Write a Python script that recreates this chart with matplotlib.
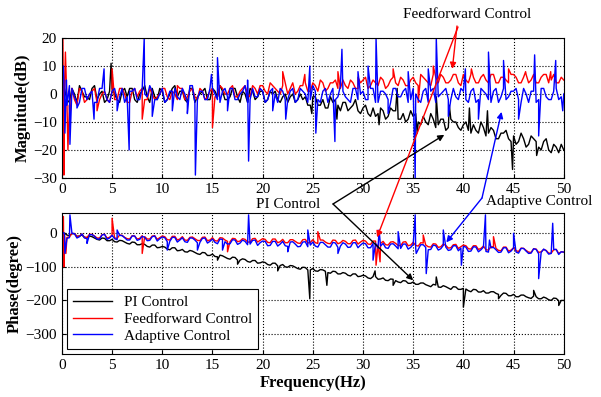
import matplotlib
matplotlib.use('Agg')
import matplotlib.pyplot as plt
import numpy as np


###############################################################################
# Data
###############################################################################

# Sampling grids: whole/half Hz points and the quarter points between them
freq = np.arange(0, 50.5, 0.5)
freq_mid = np.arange(0.25, 50, 0.5)

# Magnitude (dB)
mag_pi = [3, -2, 2, -3, 1, -1, 2, -2, 1, -2,
          2, -2, 1, -1, 2, -3, 1, -1, 2, -2,
          1, -2, 2, -1, 1, -3, 2, -1, 1, -2,
          2, -1, 1, -2, 2, -1, 1, -3, 1, -1,
          1, -2, 0, -2, -1, -3, 0, -2, -2, -4,
          -1, -4, -2, -5, -3, -4, -3, -6, -4, -6,
          -5, -7, -5, -7, -6, -8, -6, -9, -7, -9,
          -8, -10, -8, -11, -9, -11, -9, -12, -10, -12,
          -11, -13, -11, -14, -12, -14, -13, -16, -14, -16,
          -15, -17, -16, -18, -16, -19, -17, -20, -18, -21,
          -20]
mag_pi_mid = [2, -3, 0, 3, -1, -2, 3, 0, -3, 1,
              0, -3, 2, 2, -2, 0, 3, -3, -1, 2,
              -3, 0, 3, 1, -2, 2, -3, 0, 2, -2,
              1, 3, -2, -1, 2, -3, 0, 2, -2, 1,
              -3, 1, 1, -3, 0, -1, -3, 0, -1, -4,
              -1, -4, -5, -1, -2, -6, -3, -5, -2, -7,
              -4, -8, -8, -5, -9, -5, -6, -9, -10, -6,
              -7, -11, -10, -7, -12, -9, -13, -9, -10, -13,
              -10, -14, -13, -10, -15, -12, -16, -14, -13, -17,
              -18, -14, -19, -15, -17, -20, -16, -21, -19, -18]
mag_ff = [-5, -3, 2, -4, 1, -2, 1, -3, 0, -2,
          1, -2, 2, -3, 1, -1, 2, -2, 0, -1,
          2, -1, 1, -2, 2, -1, 2, -2, 1, -1,
          2, -1, 2, 0, 3, -1, 2, 0, 3, 0,
          3, 0, 3, 1, 3, 0, 4, 1, 3, 1,
          4, 1, 4, 2, 4, 2, 5, 2, 4, 2,
          5, 2, 5, 3, 5, 3, 6, 3, 5, 3,
          6, 3, 6, 4, 7, 4, 6, 4, 7, 4,
          7, 4, 6, 4, 7, 4, 7, 4, 6, 4,
          7, 4, 6, 4, 7, 4, 7, 4, 7, 4,
          5]
mag_ff_mid = [1, -4, -2, 2, -3, 0, 2, -2, 1, -3,
              -2, 2, 0, -3, 2, 1, -2, 2, -2, 0,
              2, -2, 0, 2, -2, 1, -1, 2, -2, 1,
              -1, 3, 0, 2, -1, 1, 3, -1, 2, 3,
              1, 4, 2, 0, 4, 2, 0, 3, 4, 1,
              3, 5, 1, 4, 5, 2, 3, 5, 2, 4,
              6, 3, 4, 6, 2, 5, 4, 6, 3, 5,
              4, 7, 5, 3, 6, 7, 4, 5, 7, 3,
              5, 7, 4, 6, 5, 7, 4, 6, 5, 7,
              6, 4, 7, 5, 4, 6, 7, 5, 4, 6]
mag_ad = [8, -4, 2, -3, 2, -2, 1, -3, 2, -2,
          1, -2, 2, -1, 1, -2, 2, -1, 1, -2,
          2, -2, 1, -1, 2, -3, 3, -2, 1, -2,
          2, -2, 1, -1, 2, -2, 1, -3, 2, -1,
          1, -2, 2, -3, 1, -2, 2, -2, 1, -3,
          3, -2, 1, -3, 2, -1, 1, -2, 2, -2,
          1, -2, 2, -3, 1, -2, 2, -1, 1, -3,
          2, -2, 1, -3, 2, -1, 1, -2, 2, -2,
          1, -3, 2, -2, 1, -2, 1, -3, 2, -1,
          1, -2, 2, -3, 1, -2, 2, -2, 1, -2,
          0]
mag_ad_mid = [-2, 3, -1, -3, 2, 0, -3, 2, 1, -3,
              2, -1, -3, 1, 2, -2, 0, 3, -2, 0,
              -3, 1, 2, -2, 0, 3, -3, 1, -2, 2,
              0, -3, 2, 2, -2, 0, 3, -2, -1, 2,
              -3, 1, 0, 2, -2, 1, -3, 2, 0, -2,
              1, -3, 2, 0, -2, 3, -1, -3, 2, 0,
              -2, 2, -3, 1, 0, -3, 2, -1, 2, -2,
              0, -3, 2, 1, -3, 0, 2, -2, -1, 2,
              -2, 1, -3, 2, 0, -3, 2, -1, -2, 1,
              2, -3, 0, 1, -3, 2, -1, -2, 2, -1]

# Magnitude spikes (Hz, dB)
mag_pi_spikes = [(4.9, 11), (24.9, -7), (27.4, -9), (31.6, -11), (33.4, 2),
                 (35.4, -14), (37.3, -1), (38.6, -4), (40.6, -5), (42.4, -6),
                 (44.9, -27), (47.3, -22)]
mag_ff_spikes = [(0.1, 20), (0.2, -29), (0.35, 15), (0.6, -20), (0.8, -8),
                 (3.5, -6), (5.0, 9), (8.0, -9), (11.5, 3), (15.0, -12),
                 (22.0, 8), (24.2, 7), (27.5, 8), (29.5, 6), (33.0, 9),
                 (35.5, -3), (37.0, 10), (40.8, 9), (44.5, 9), (46.2, 8),
                 (48.7, 8)]
mag_ad_spikes = [(0.15, 10), (0.3, -14), (0.45, 5), (0.8, -18), (1.5, -5),
                 (3.2, -9), (4.2, 9), (5.5, -6), (6.7, -20), (8.2, 20),
                 (9.0, -8), (11.0, -6), (12.5, -7), (13.3, -29), (14.9, 7),
                 (15.5, 13), (16.5, -6), (18.5, 5), (18.6, -24), (21.0, -6),
                 (22.3, -9), (24.7, 10), (25.3, -14), (27.2, -17), (27.9, 16),
                 (29.5, 8), (30.5, 10), (31.3, 20), (32.5, -7), (34.5, 8),
                 (35.2, -30), (36.5, 9), (37.3, 20), (38.5, -8), (40.2, 9),
                 (41.5, -9), (42.5, 15), (44.0, 12), (45.5, -9), (47.1, 14),
                 (47.5, -15), (49.2, 12), (49.9, -6)]

# Phase (degree)
ph_pi = [3, -5, -1, -9, -5, -13, -10, -18, -14, -22,
         -18, -26, -22, -30, -26, -34, -31, -39, -35, -43,
         -39, -47, -43, -52, -48, -56, -53, -61, -57, -66,
         -62, -70, -67, -75, -71, -80, -76, -84, -81, -89,
         -85, -93, -89, -97, -93, -101, -97, -105, -101, -109,
         -105, -113, -109, -117, -113, -121, -117, -125, -121, -129,
         -125, -133, -129, -137, -133, -141, -137, -145, -141, -149,
         -145, -152, -148, -156, -152, -160, -156, -163, -159, -167,
         -164, -171, -167, -175, -171, -178, -174, -182, -178, -186,
         -182, -189, -184, -192, -187, -195, -190, -198, -193, -201,
         -200]
ph_pi_mid = [1, -7, -1, -8, -12, -8, -14, -20, -15, -22,
             -25, -21, -26, -32, -27, -34, -33, -41, -35, -42,
             -41, -49, -43, -51, -55, -51, -57, -63, -58, -66,
             -69, -65, -71, -77, -72, -80, -78, -86, -81, -88,
             -87, -95, -89, -96, -100, -96, -101, -107, -102, -109,
             -112, -108, -113, -119, -114, -121, -119, -127, -121, -128,
             -127, -135, -129, -136, -140, -136, -141, -147, -142, -149,
             -152, -148, -153, -159, -154, -161, -159, -167, -160, -167,
             -166, -174, -168, -175, -178, -174, -179, -185, -179, -186,
             -189, -184, -189, -194, -189, -195, -193, -200, -194, -200]
ph_ff = [2, -12, 0, -10, -2, -12, -3, -14, -4, -14,
         -5, -15, -6, -16, -7, -17, -7, -17, -8, -18,
         -8, -19, -9, -20, -10, -21, -11, -21, -12, -22,
         -13, -23, -14, -24, -15, -25, -16, -26, -16, -26,
         -16, -27, -17, -28, -18, -28, -19, -29, -19, -29,
         -19, -30, -20, -30, -20, -31, -21, -31, -21, -32,
         -21, -32, -23, -33, -24, -35, -25, -36, -26, -37,
         -27, -38, -29, -40, -31, -42, -32, -44, -34, -45,
         -35, -46, -37, -48, -38, -50, -40, -51, -41, -53,
         -43, -54, -45, -56, -46, -57, -48, -59, -49, -60,
         -56]
ph_ff_mid = [-2, -11, -1, -8, -12, -3, -8, -14, -3, -12,
             -14, -5, -12, -17, -8, -15, -10, -17, -7, -13,
             -10, -20, -9, -17, -20, -12, -16, -22, -11, -20,
             -22, -13, -20, -25, -16, -23, -18, -26, -15, -21,
             -18, -28, -17, -25, -28, -19, -24, -30, -18, -27,
             -28, -20, -26, -31, -21, -28, -24, -31, -20, -26,
             -23, -33, -23, -30, -34, -26, -30, -37, -25, -35,
             -36, -28, -35, -41, -32, -40, -36, -43, -33, -40,
             -37, -47, -37, -45, -49, -40, -45, -52, -41, -50,
             -52, -44, -51, -57, -47, -55, -51, -59, -48, -55]
ph_ad = [5, -15, 0, -14, -2, -16, -4, -17, -5, -18,
         -6, -19, -7, -20, -8, -21, -9, -22, -10, -23,
         -11, -25, -12, -26, -13, -27, -14, -28, -15, -29,
         -17, -31, -18, -32, -19, -33, -20, -34, -21, -36,
         -23, -37, -24, -38, -24, -39, -25, -40, -26, -40,
         -26, -41, -27, -41, -27, -42, -28, -42, -28, -43,
         -29, -43, -30, -44, -30, -45, -31, -46, -32, -47,
         -33, -48, -34, -49, -35, -50, -36, -51, -37, -52,
         -39, -54, -40, -55, -41, -56, -42, -57, -43, -58,
         -44, -59, -45, -60, -46, -61, -47, -62, -48, -63,
         -56]
ph_ad_mid = [-1, -13, -1, -10, -14, -4, -9, -17, -3, -14,
             -16, -6, -13, -20, -8, -18, -12, -21, -8, -16,
             -13, -24, -12, -20, -25, -14, -20, -27, -14, -24,
             -27, -17, -25, -31, -20, -29, -24, -32, -20, -28,
             -24, -36, -24, -32, -37, -26, -32, -39, -25, -35,
             -38, -27, -34, -41, -29, -38, -32, -41, -28, -35,
             -31, -43, -30, -38, -43, -32, -38, -45, -32, -42,
             -45, -34, -42, -48, -37, -46, -41, -49, -37, -44,
             -41, -53, -41, -49, -54, -43, -49, -56, -43, -53,
             -56, -45, -53, -59, -48, -57, -52, -60, -48, -55]

# Phase spikes (Hz, degree)
ph_pi_spikes = [(0.2, -40), (15.5, -80), (17.5, -92), (21.5, -112),
                (24.7, -195), (26.4, -155), (31.2, -112), (33.0, -155),
                (37.3, -130), (40.0, -220), (43.5, -195), (47.0, -170),
                (49.5, -215)]
ph_ff_spikes = [(0.15, 50), (0.2, -100), (0.4, -60), (5.0, 45), (8.0, -60),
                (16.5, -55), (25.5, 5), (31.3, -95), (31.7, -85), (36.0, -5),
                (43.0, -10)]
ph_ad_spikes = [(0.3, -60), (0.8, 55), (2.5, -30), (5.5, 10), (10.5, -50),
                (13.5, -50), (16.0, -50), (18.6, 55), (22.5, -55), (24.5, 10),
                (27.5, -60), (31.0, -80), (31.6, 10), (33.5, 5), (35.2, 55),
                (35.3, -60), (36.3, -120), (38.0, 10), (39.8, -95), (42.2, 55),
                (42.6, -20), (45.0, 0), (47.5, -135), (48.9, 30)]

labels = ['PI Control', 'Feedforward Control', 'Adaptive Control']
colors = ['black', 'red', 'blue']


###############################################################################
# Utilities
###############################################################################


def merge(base, mid, spikes):
    """Interleave the base, quarter and spike samples by frequency"""
    f = np.concatenate([freq, freq_mid, [s[0] for s in spikes]])
    v = np.concatenate([base, mid, [s[1] for s in spikes]])
    order = np.argsort(f, kind='stable')
    return f[order], v[order]


def style(ax):
    ax.set_xlim(0, 50)
    ax.set_xticks(np.arange(0, 51, 5))
    ax.grid(True, linestyle=':', color='black', linewidth=0.8)
    ax.tick_params(direction='in', labelsize=11, length=3)
    for spine in ax.spines.values():
        spine.set_linewidth(0.8)


###############################################################################
# Plot
###############################################################################

plt.rcParams['font.family'] = ['Liberation Serif', 'DejaVu Serif']

figure = plt.figure(figsize=(6.01, 3.97), dpi=100)
ax_mag = figure.add_axes([0.103, 0.552, 0.835, 0.352])
ax_ph = figure.add_axes([0.103, 0.108, 0.835, 0.355])

mags = [(mag_pi, mag_pi_mid, mag_pi_spikes),
        (mag_ff, mag_ff_mid, mag_ff_spikes),
        (mag_ad, mag_ad_mid, mag_ad_spikes)]
phases = [(ph_pi, ph_pi_mid, ph_pi_spikes),
          (ph_ff, ph_ff_mid, ph_ff_spikes),
          (ph_ad, ph_ad_mid, ph_ad_spikes)]

for (base, mid, spikes), color, label in zip(mags, colors, labels):
    f, v = merge(base, mid, spikes)
    ax_mag.plot(f, v, color=color, linewidth=1.0, label=label)
for (base, mid, spikes), color, label in zip(phases, colors, labels):
    f, v = merge(base, mid, spikes)
    ax_ph.plot(f, v, color=color, linewidth=1.0, label=label)

style(ax_mag)
style(ax_ph)
ax_mag.set_ylim(-30, 20)
ax_mag.set_yticks(np.arange(-30, 21, 10))
ax_ph.set_ylim(-360, 60)
ax_ph.set_yticks([-300, -200, -100, 0])

ax_mag.set_ylabel('Magnitude(dB)', fontsize=12, fontweight='bold', labelpad=2)
ax_ph.set_ylabel('Phase(degree)', fontsize=12, fontweight='bold', labelpad=2)
ax_ph.set_xlabel('Frequency(Hz)', fontsize=12, fontweight='bold', labelpad=2)

legend = ax_ph.legend(loc='lower left', fontsize=11, fancybox=False,
                      edgecolor='black', framealpha=1, handlelength=2.5,
                      borderaxespad=0.35, labelspacing=0.2)
legend.get_frame().set_linewidth(0.8)

# Annotations (text and arrow origins in figure pixels)
arrow = dict(arrowstyle='-|>', mutation_scale=9, linewidth=1, shrinkA=0,
             shrinkB=0)

figure.text(467, 383, 'Feedforward Control', transform=None, fontsize=11,
            ha='center', va='center')
figure.text(288, 193, 'PI Control', transform=None, fontsize=11,
            ha='center', va='center')
figure.text(539, 196, 'Adaptive Control', transform=None, fontsize=11,
            ha='center', va='center')

targets = [
    (ax_mag, (38.9, 9.0), (457, 371), 'red'),
    (ax_ph, (31.4, -12), (458, 370), 'red'),
    (ax_mag, (38.1, -14.6), (333, 193), 'black'),
    (ax_ph, (35.0, -140), (333, 193), 'black'),
    (ax_mag, (43.8, -6.4), (482, 199), 'blue'),
    (ax_ph, (38.3, -27), (482, 199), 'blue'),
]
for ax, xy, origin, color in targets:
    ann = ax.annotate('', xy=xy, xycoords='data', xytext=origin,
                      textcoords='figure pixels', annotation_clip=False,
                      arrowprops=dict(arrow, color=color))
    ann.set_zorder(10)

figure.savefig('out.png', dpi=100)
